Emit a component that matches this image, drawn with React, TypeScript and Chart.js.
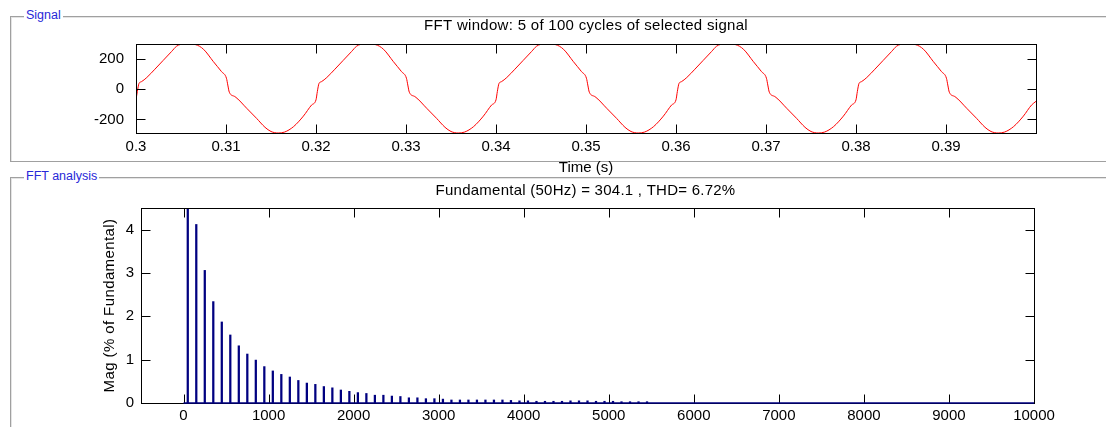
import React, { useEffect, useRef } from "react";
import { Chart, registerables } from "chart.js";

Chart.register(...registerables);
Chart.defaults.font.family = "'Liberation Sans', Arial, sans-serif";

// ---------- Texts ----------
const SIGNAL_PANEL = "Signal";
const FFT_PANEL = "FFT analysis";
const SIGNAL_TITLE = "FFT window: 5 of 100 cycles of selected signal";
const SIGNAL_XLABEL = "Time (s)";
const FFT_TITLE = "Fundamental (50Hz) = 304.1 , THD= 6.72%";
const FFT_YLABEL = "Mag (% of Fundamental)";

// ---------- Signal (time in s, value) ----------
const SIGNAL_T = [
  0.3, 0.30015, 0.30033, 0.3006, 0.3012, 0.3021, 0.303, 0.30395, 0.3045, 0.30495, 0.3057, 0.3066, 0.3075, 0.3086, 0.3095, 0.31005, 0.3102, 0.31037, 0.311, 0.3123, 0.3134, 0.31433, 0.315, 0.3158, 0.3165, 0.3175, 0.3186, 0.3195,
  0.32, 0.32015, 0.32033, 0.3206, 0.3212, 0.3221, 0.323, 0.32395, 0.3245, 0.32495, 0.3257, 0.3266, 0.3275, 0.3286, 0.3295, 0.33005, 0.3302, 0.33037, 0.331, 0.3323, 0.3334, 0.33433, 0.335, 0.3358, 0.3365, 0.3375, 0.3386, 0.3395,
  0.34, 0.34015, 0.34033, 0.3406, 0.3412, 0.3421, 0.343, 0.34395, 0.3445, 0.34495, 0.3457, 0.3466, 0.3475, 0.3486, 0.3495, 0.35005, 0.3502, 0.35037, 0.351, 0.3523, 0.3534, 0.35433, 0.355, 0.3558, 0.3565, 0.3575, 0.3586, 0.3595,
  0.36, 0.36015, 0.36033, 0.3606, 0.3612, 0.3621, 0.363, 0.36395, 0.3645, 0.36495, 0.3657, 0.3666, 0.3675, 0.3686, 0.3695, 0.37005, 0.3702, 0.37037, 0.371, 0.3723, 0.3734, 0.37433, 0.375, 0.3758, 0.3765, 0.3775, 0.3786, 0.3795,
  0.38, 0.38015, 0.38033, 0.3806, 0.3812, 0.3821, 0.383, 0.38395, 0.3845, 0.38495, 0.3857, 0.3866, 0.3875, 0.3886, 0.3895, 0.39005, 0.3902, 0.39037, 0.391, 0.3923, 0.3934, 0.39433, 0.395, 0.3958, 0.3965, 0.3975, 0.3986, 0.3995, 0.4,
];
const SIGNAL_V = [
  -70, -15, 38, 50, 78, 133, 190, 250, 285, 297, 300, 296, 265, 183, 117, 73, 28, -20, -49, -126, -193, -252, -280, -290, -284, -248, -178, -105,
  -70, -15, 38, 50, 78, 133, 190, 250, 285, 297, 300, 296, 265, 183, 117, 73, 28, -20, -49, -126, -193, -252, -280, -290, -284, -248, -178, -105,
  -70, -15, 38, 50, 78, 133, 190, 250, 285, 297, 300, 296, 265, 183, 117, 73, 28, -20, -49, -126, -193, -252, -280, -290, -284, -248, -178, -105,
  -70, -15, 38, 50, 78, 133, 190, 250, 285, 297, 300, 296, 265, 183, 117, 73, 28, -20, -49, -126, -193, -252, -280, -290, -284, -248, -178, -105,
  -70, -15, 38, 50, 78, 133, 190, 250, 285, 297, 300, 296, 265, 183, 117, 73, 28, -20, -49, -126, -193, -252, -280, -290, -284, -248, -178, -105, -80,
];
const SIGNAL_X_TICKS = [0.3, 0.31, 0.32, 0.33, 0.34, 0.35, 0.36, 0.37, 0.38, 0.39];
const SIGNAL_Y_TICKS = [-200, 0, 200];
const SIGNAL_X_RANGE = [0.3, 0.4];
const SIGNAL_Y_RANGE = [-290, 300];

// ---------- FFT (Hz, % of fundamental) ----------
const HARMONIC_FREQ = [
  50, 150, 250, 350, 450, 550, 650, 750, 850, 950,
  1050, 1150, 1250, 1350, 1450, 1550, 1650, 1750, 1850, 1950,
  2050, 2150, 2250, 2350, 2450, 2550, 2650, 2750, 2850, 2950,
  3050, 3150, 3250, 3350, 3450, 3550, 3650, 3750, 3850, 3950,
  4050, 4150, 4250, 4350, 4450, 4550, 4650, 4750, 4850, 4950,
  5050, 5150, 5250, 5350, 5450,
];
const HARMONIC_MAG = [
  100, 4.12, 3.06, 2.34, 1.87, 1.57, 1.32, 1.13, 0.99, 0.84,
  0.74, 0.66, 0.6, 0.52, 0.46, 0.43, 0.38, 0.35, 0.3, 0.27,
  0.24, 0.22, 0.18, 0.18, 0.16, 0.15, 0.12, 0.12, 0.1, 0.1,
  0.09, 0.07, 0.07, 0.07, 0.07, 0.07, 0.07, 0.07, 0.06, 0.05,
  0.05, 0.04, 0.04, 0.04, 0.04, 0.05, 0.05, 0.05, 0.04, 0.04,
  0.04, 0.03, 0.03, 0.03, 0.03,
];
const NOISE_FLOOR_FREQ = [0, 10000];
const NOISE_FLOOR_MAG = [0, 0];
const FFT_X_TICKS = [0, 1000, 2000, 3000, 4000, 5000, 6000, 7000, 8000, 9000, 10000];
const FFT_Y_TICKS = [0, 1, 2, 3, 4];
const FFT_X_RANGE = [-500, 10000];
const FFT_Y_RANGE = [0, 4.5];

const W = 1106;
const H = 427;
const FONT = "15px 'Liberation Sans', Arial, sans-serif";

const axesDecor = {
  id: "axesDecor",
  afterDraw(chart: any, _args: any, opts: any) {
    const { ctx, chartArea } = chart;
    const { left, right, top, bottom } = chartArea;
    const xs = chart.scales.x;
    const ys = chart.scales.y;
    const tl = opts.tickLen || 9;
    ctx.save();
    ctx.strokeStyle = "#000";
    ctx.lineWidth = 1;
    ctx.beginPath();
    for (const t of xs.ticks) {
      const px = Math.round(xs.getPixelForValue(t.value)) + 0.5;
      ctx.moveTo(px, Math.round(bottom) + 0.5);
      ctx.lineTo(px, Math.round(bottom) + 0.5 - tl);
      ctx.moveTo(px, Math.round(top) + 0.5);
      ctx.lineTo(px, Math.round(top) + 0.5 + tl);
    }
    for (const t of ys.ticks) {
      const py = Math.round(ys.getPixelForValue(t.value)) + 0.5;
      ctx.moveTo(Math.round(left) + 0.5, py);
      ctx.lineTo(Math.round(left) + 0.5 + tl, py);
      ctx.moveTo(Math.round(right) + 0.5, py);
      ctx.lineTo(Math.round(right) + 0.5 - tl, py);
    }
    ctx.stroke();
    ctx.strokeRect(
      Math.round(left) + 0.5,
      Math.round(top) + 0.5,
      Math.round(right) - Math.round(left),
      Math.round(bottom) - Math.round(top)
    );
    if (opts.baselineColor) {
      const x0 = xs.getPixelForValue(NOISE_FLOOR_FREQ[0]);
      const x1 = xs.getPixelForValue(NOISE_FLOOR_FREQ[NOISE_FLOOR_FREQ.length - 1]);
      const y0 = ys.getPixelForValue(NOISE_FLOOR_MAG[0]);
      ctx.strokeStyle = opts.baselineColor;
      ctx.lineWidth = 1.5;
      ctx.beginPath();
      ctx.moveTo(x0, Math.round(y0));
      ctx.lineTo(x1, Math.round(y0));
      ctx.stroke();
    }
    ctx.fillStyle = "#000";
    ctx.font = FONT;
    ctx.textAlign = "center";
    ctx.textBaseline = "middle";
    const cx = (left + right) / 2;
    if (opts.title) {
      ctx.letterSpacing = opts.titleLs || "0px";
      ctx.fillText(opts.title, cx + (opts.titleDx || 0), top + opts.titleDy);
    }
    if (opts.xlabel) {
      ctx.letterSpacing = "0px";
      ctx.fillText(opts.xlabel, cx, bottom + opts.xlabelDy);
    }
    if (opts.ylabel) {
      ctx.save();
      ctx.letterSpacing = opts.ylabelLs || "0px";
      ctx.translate(left + opts.ylabelDx, (top + bottom) / 2);
      ctx.rotate(-Math.PI / 2);
      ctx.fillText(opts.ylabel, 0, 0);
      ctx.restore();
    }
    ctx.letterSpacing = "0px";
    ctx.restore();
  },
};

function tickCfg(padding: number) {
  return {
    padding,
    color: "#000",
    font: { size: 15 },
    maxRotation: 0,
    autoSkip: false,
    callback: (v: any) => String(v),
  };
}

export default function App() {
  const sigRef = useRef<HTMLCanvasElement>(null);
  const fftRef = useRef<HTMLCanvasElement>(null);

  useEffect(() => {
    const sig = new Chart(sigRef.current as HTMLCanvasElement, {
      type: "line",
      data: {
        datasets: [
          {
            data: SIGNAL_T.map((t, i) => ({ x: t, y: SIGNAL_V[i] })),
            borderColor: "#ff0000",
            borderWidth: 1,
            pointRadius: 0,
            fill: false,
            cubicInterpolationMode: "monotone",
          } as any,
        ],
      },
      options: {
        responsive: false,
        animation: false,
        devicePixelRatio: 1,
        layout: { padding: { left: 0, right: W - 1036, top: 44, bottom: 0 } },
        plugins: {
          legend: { display: false },
          tooltip: { enabled: false },
          axesDecor: {
            tickLen: 9,
            title: SIGNAL_TITLE,
            titleDy: -18,
            titleLs: "0.3px",
            xlabel: SIGNAL_XLABEL,
            xlabelDy: 35,
          },
        } as any,
        scales: {
          x: {
            type: "linear",
            min: SIGNAL_X_RANGE[0],
            max: SIGNAL_X_RANGE[1],
            grid: { display: false, drawTicks: false },
            border: { display: false },
            ticks: tickCfg(5),
            afterBuildTicks: (s: any) => {
              s.ticks = SIGNAL_X_TICKS.map((v) => ({ value: v }));
            },
            afterFit: (s: any) => {
              s.height = H - 133;
            },
          },
          y: {
            type: "linear",
            min: SIGNAL_Y_RANGE[0],
            max: SIGNAL_Y_RANGE[1],
            grid: { display: false, drawTicks: false },
            border: { display: false },
            ticks: tickCfg(12),
            afterBuildTicks: (s: any) => {
              s.ticks = SIGNAL_Y_TICKS.map((v) => ({ value: v }));
            },
            afterFit: (s: any) => {
              s.width = 136;
            },
          },
        } as any,
      },
      plugins: [axesDecor],
    });

    const fft = new Chart(fftRef.current as HTMLCanvasElement, {
      type: "bar",
      data: {
        datasets: [
          {
            data: HARMONIC_FREQ.map((f, i) => ({ x: f, y: HARMONIC_MAG[i] })),
            backgroundColor: "rgb(0,0,128)",
            borderWidth: 0,
            barThickness: 1.6,
            grouped: false,
          } as any,
        ],
      },
      options: {
        responsive: false,
        animation: false,
        devicePixelRatio: 1,
        layout: { padding: { left: 0, right: W - 1034, top: 208, bottom: 0 } },
        plugins: {
          legend: { display: false },
          tooltip: { enabled: false },
          axesDecor: {
            tickLen: 9,
            title: FFT_TITLE,
            titleDy: -17,
            titleDx: -2,
            titleLs: "0.25px",
            ylabel: FFT_YLABEL,
            ylabelDx: -31,
            ylabelLs: "0.4px",
            baselineColor: "rgb(0,0,128)",
          },
        } as any,
        scales: {
          x: {
            type: "linear",
            min: FFT_X_RANGE[0],
            max: FFT_X_RANGE[1],
            offset: false,
            grid: { display: false, drawTicks: false, offset: false },
            border: { display: false },
            ticks: tickCfg(4),
            afterBuildTicks: (s: any) => {
              s.ticks = FFT_X_TICKS.map((v) => ({ value: v }));
            },
            afterFit: (s: any) => {
              s.height = H - 403;
            },
          },
          y: {
            type: "linear",
            min: FFT_Y_RANGE[0],
            max: FFT_Y_RANGE[1],
            grid: { display: false, drawTicks: false },
            border: { display: false },
            ticks: tickCfg(7),
            afterBuildTicks: (s: any) => {
              s.ticks = FFT_Y_TICKS.map((v) => ({ value: v }));
            },
            afterFit: (s: any) => {
              s.width = 141;
            },
          },
        } as any,
      },
      plugins: [axesDecor],
    });

    return () => {
      sig.destroy();
      fft.destroy();
    };
  }, []);

  const frame = (top: number, height: number): React.CSSProperties => ({
    position: "absolute",
    left: 10,
    top,
    width: 1200,
    height,
    boxSizing: "border-box",
    borderTop: "1px solid #a0a0a0",
    borderLeft: "1px solid #a0a0a0",
    borderBottom: "1px solid #a0a0a0",
    boxShadow: "inset 1px 1px 0 #e4e4e4",
  });
  const legend = (top: number): React.CSSProperties => ({
    position: "absolute",
    left: 24,
    top,
    padding: "0 2px",
    background: "#fff",
    color: "#2828d8",
    fontSize: "12.5px",
    lineHeight: "14px",
    fontFamily: "'Liberation Sans', Arial, sans-serif",
    whiteSpace: "nowrap",
  });

  return (
    <div
      style={{
        position: "absolute",
        left: 0,
        top: 0,
        width: W,
        height: H,
        overflow: "hidden",
        background: "#fff",
      }}
    >
      <div style={frame(16, 146)} />
      <div style={frame(177, 400)} />
      <span style={legend(8)}>{SIGNAL_PANEL}</span>
      <span style={legend(169)}>{FFT_PANEL}</span>
      <canvas ref={sigRef} width={W} height={H} style={{ position: "absolute", left: 0, top: 0 }} />
      <canvas ref={fftRef} width={W} height={H} style={{ position: "absolute", left: 0, top: 0 }} />
    </div>
  );
}
